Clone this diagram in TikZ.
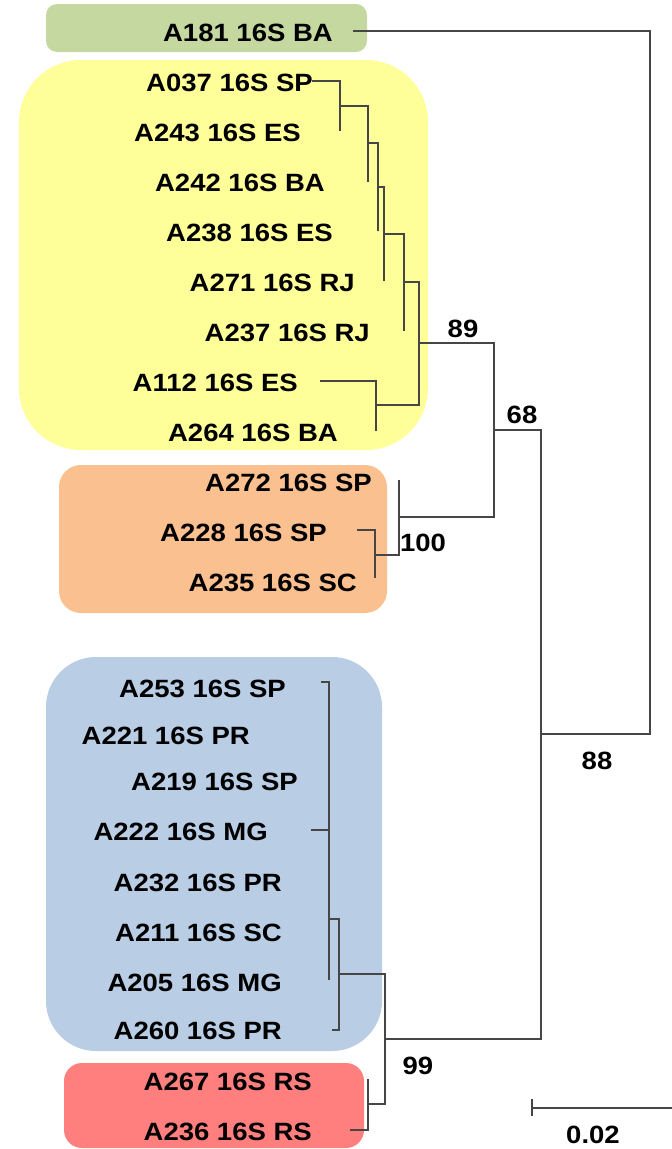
\documentclass[tikz,border=0pt]{standalone}
\usepackage{fontspec}
\setmainfont{Liberation Sans}[FakeStretch=1.1]
\definecolor{cgreen}{RGB}{197,216,160}
\definecolor{cyellow}{RGB}{255,255,153}
\definecolor{corange}{RGB}{250,192,144}
\definecolor{cblue}{RGB}{185,205,229}
\definecolor{cred}{RGB}{255,127,127}
\definecolor{cline}{RGB}{70,70,70}
\begin{document}
\begin{tikzpicture}[x=1pt,y=-1pt,
  lbl/.style={anchor=base east,inner sep=0pt,font=\fontsize{25}{30}\selectfont\bfseries},
  boot/.style={anchor=base,inner sep=0pt,font=\fontsize{25}{30}\selectfont\bfseries},
  br/.style={draw=cline,line width=1.1pt},
  clade/.style={draw=none}]
\useasboundingbox (0,0) rectangle (672,1149);
% clade boxes
\path[clade,fill=cgreen,rounded corners=11pt] (46,4) rectangle (367,52);
\path[clade,fill=cyellow,rounded corners=62pt] (19,60) rectangle (428,450);
\path[clade,fill=corange,rounded corners=22pt] (59,465) rectangle (387,613);
\path[clade,fill=cblue,rounded corners=50pt] (46,657) rectangle (382,1051);
\path[clade,fill=cred,rounded corners=18pt] (64,1063) rectangle (364,1148);
% labels
\node[lbl] (L181) at (333,41) {A181 16S BA};
\node[lbl] (L037) at (313,91) {A037 16S SP};
\node[lbl] (L243) at (301,141) {A243 16S ES};
\node[lbl] (L242) at (325,191) {A242 16S BA};
\node[lbl] (L238) at (333,241) {A238 16S ES};
\node[lbl] (L271) at (355,291) {A271 16S RJ};
\node[lbl] (L237) at (370,341) {A237 16S RJ};
\node[lbl] (L112) at (298,391) {A112 16S ES};
\node[lbl] (L264) at (338,441) {A264 16S BA};
\node[lbl] (L272) at (372,491) {A272 16S SP};
\node[lbl] (L228) at (327,541) {A228 16S SP};
\node[lbl] (L235) at (357,591) {A235 16S SC};
\node[lbl] (L253) at (286,697) {A253 16S SP};
\node[lbl] (L221) at (250,744) {A221 16S PR};
\node[lbl] (L219) at (298,790) {A219 16S SP};
\node[lbl] (L222) at (268,840) {A222 16S MG};
\node[lbl] (L232) at (282,891) {A232 16S PR};
\node[lbl] (L211) at (282,941) {A211 16S SC};
\node[lbl] (L205) at (282,991) {A205 16S MG};
\node[lbl] (L260) at (282,1039) {A260 16S PR};
\node[lbl] (L267) at (312,1090) {A267 16S RS};
\node[lbl] (L236) at (312,1140) {A236 16S RS};
% tips
\coordinate (t181) at (353,31);
\coordinate (t037) at (312,81);
\coordinate (t243) at (340,131);
\coordinate (t242) at (368,182);
\coordinate (t238) at (378,231);
\coordinate (t271) at (384,281);
\coordinate (t237) at (404,331);
\coordinate (t112) at (320,381);
\coordinate (t264) at (376,431);
\coordinate (t272) at (399,480);
\coordinate (t228) at (357,530);
\coordinate (t235) at (375,578);
\coordinate (t253) at (321,682);
\coordinate (t222) at (311,830);
\coordinate (t222b) at (329,830);
\coordinate (t205) at (329,980);
\coordinate (t260) at (332,1030);
\coordinate (t267) at (368,1079);
\coordinate (t236) at (350,1130);
% internal nodes
\coordinate (root) at (650,382);
\coordinate (n88) at (541,734);
\coordinate (n68) at (494,430);
\coordinate (n89) at (419,343);
\coordinate (na) at (404,282);
\coordinate (nc) at (384,234);
\coordinate (nd) at (378,187);
\coordinate (ne) at (368,143);
\coordinate (nf) at (340,106);
\coordinate (nb) at (376,405);
\coordinate (n100) at (399,517);
\coordinate (ng) at (375,555);
\coordinate (n99) at (385,1039);
\coordinate (nh) at (339,974);
\coordinate (np) at (329,919);
\coordinate (ni) at (368,1104);
% branches
\draw[br] (t181) -| (root) |- (n88);
\draw[br] (n68) -| (n88) |- (n99);
\draw[br] (n89) -| (n68) |- (n100);
\draw[br] (na) -| (n89) |- (nb);
\draw[br] (nc) -| (na) |- (t237);
\draw[br] (nd) -| (nc) |- (t271);
\draw[br] (ne) -| (nd) |- (t238);
\draw[br] (nf) -| (ne) |- (t242);
\draw[br] (t037) -| (nf) |- (t243);
\draw[br] (t112) -| (nb) |- (t264);
\draw[br] (t272) -| (n100) |- (ng);
\draw[br] (t228) -| (ng) |- (t235);
\draw[br] (nh) -| (n99) |- (ni);
\draw[br] (np) -| (nh) |- (t260);
\draw[br] (t253) -| (t205);
\draw[br] (t222) -- (t222b);
\draw[br] (t267) -| (ni) |- (t236);
% bootstrap values
\node[boot] (b89) at (463,337) {89};
\node[boot] (b68) at (522,423) {68};
\node[boot] (b100) at (423,551) {100};
\node[boot] (b88) at (597,769) {88};
\node[boot] (b99) at (418,1074) {99};
% scale bar
\coordinate (sbL) at (532,1108);
\coordinate (sbR) at (672,1108);
\draw[br] (sbL) -- (sbR);
\draw[br] (532,1099) -- (532,1116);
\node[boot] (sb) at (593,1143) {0.02};
\end{tikzpicture}
\end{document}
